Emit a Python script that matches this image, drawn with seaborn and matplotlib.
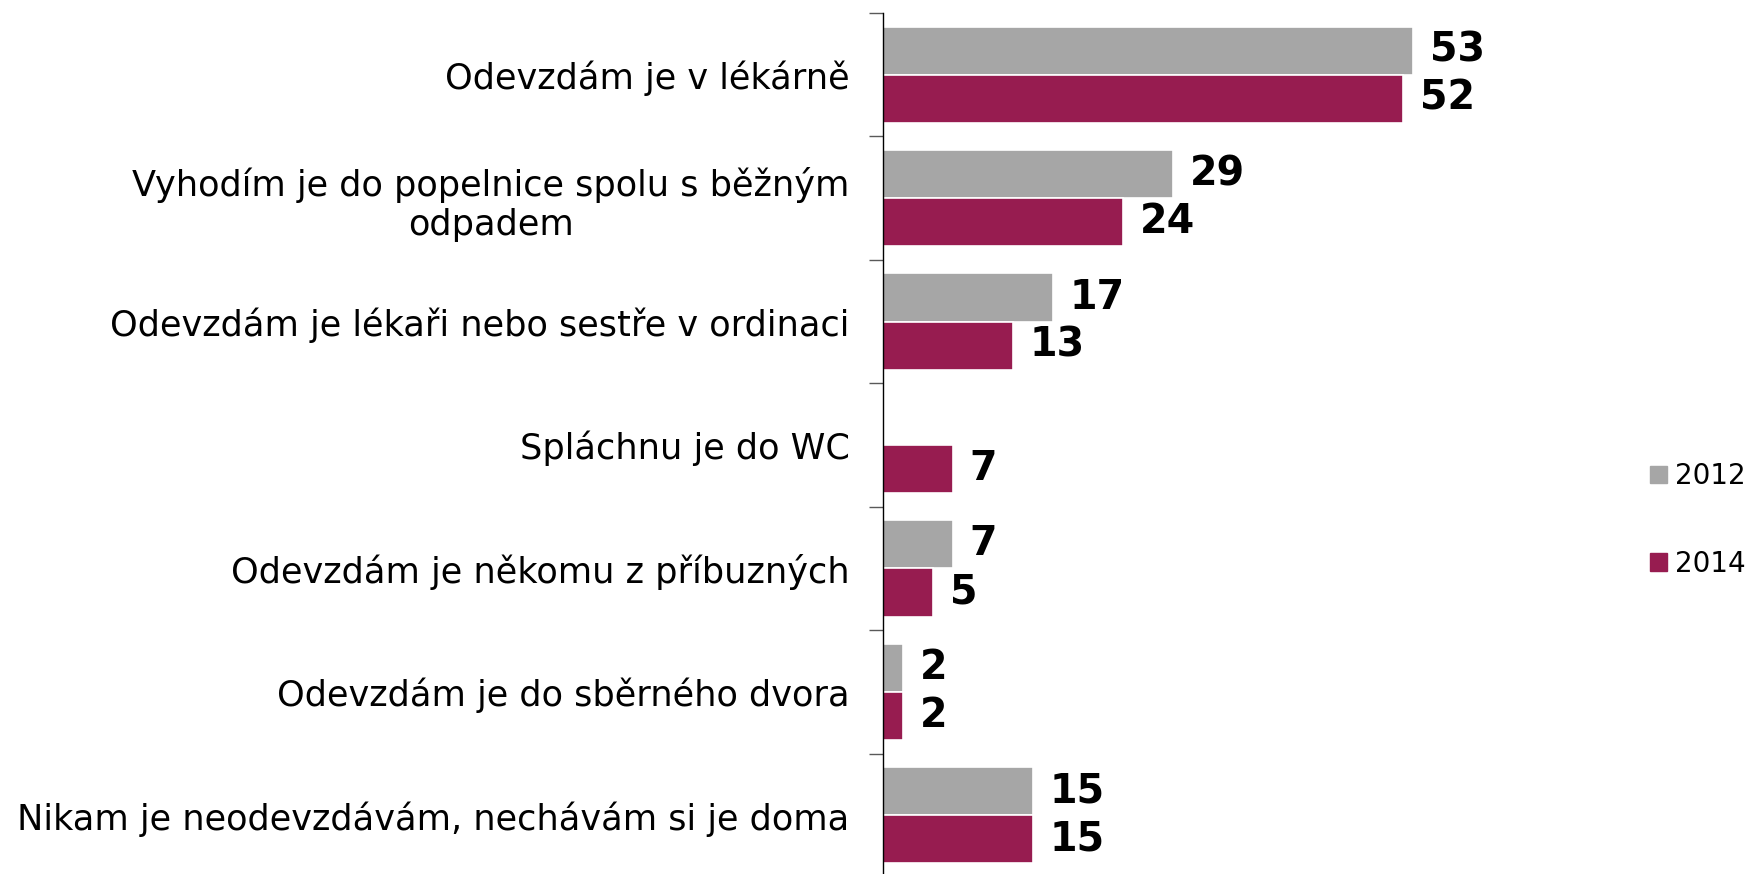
import matplotlib
matplotlib.use("Agg")
import matplotlib.pyplot as plt
import matplotlib.patches as mpatches
import numpy as np
import pandas as pd
import seaborn as sns

categories = [
    "Odevzdám je v lékárně",
    "Vyhodím je do popelnice spolu s běžným\nodpadem",
    "Odevzdám je lékaři nebo sestře v ordinaci",
    "Spláchnu je do WC",
    "Odevzdám je někomu z příbuzných",
    "Odevzdám je do sběrného dvora",
    "Nikam je neodevzdávám, nechávám si je doma",
]
values_2012 = [53, 29, 17, np.nan, 7, 2, 15]
values_2014 = [52, 24, 13, 7, 5, 2, 15]
years = ["2012", "2014"]
colors = {"2012": "#A6A6A6", "2014": "#971C50"}

df = pd.DataFrame({
    "category": categories * 2,
    "value": values_2012 + values_2014,
    "year": ["2012"] * len(categories) + ["2014"] * len(categories),
})

sns.set_style("white")
plt.rcParams["font.family"] = ["DejaVu Sans"]

fig = plt.figure(figsize=(17.51, 8.74), dpi=100)
ax = fig.add_axes([883 / 1751, -3 / 874, 600 / 1751, (874 - 13 + 3) / 874])

sns.barplot(data=df, y="category", x="value", hue="year", hue_order=years,
            order=categories, palette=colors, saturation=1, orient="h", width=0.78,
            edgecolor="white", linewidth=1.2, ax=ax, legend=False)

ax.set_xlim(0, 60)
ax.set_ylim(6.5, -0.5)

# value labels (skip bars that are missing)
for cont in ax.containers:
    for bar in cont:
        if bar is None or np.isnan(bar.get_width()):
            continue
        w = bar.get_width()
        yc = bar.get_y() + bar.get_height() / 2
        ax.annotate(f"{w:.0f}", (w, yc), xytext=(12, 0), textcoords="offset points",
                    ha="left", va="center", fontsize=28.5, fontweight="bold",
                    color="black", annotation_clip=False)

# category boundary ticks, labels centered on groups
ax.set_yticks(np.arange(-0.5, 7, 1))
ax.set_yticklabels([])
ax.set_yticks(np.arange(len(categories)), minor=True)
ax.set_yticklabels(categories, minor=True, fontsize=25.3, ma="center", color="black")
ax.tick_params(axis="y", which="major", length=10, width=1, color="#595959", left=True)
ax.tick_params(axis="y", which="minor", length=0, pad=24)
ax.set_xticks([])
ax.set_xlabel("")
ax.set_ylabel("")

for s in ["top", "right", "bottom"]:
    ax.spines[s].set_visible(False)
ax.spines["left"].set_color("black")
ax.spines["left"].set_linewidth(1)

handles = [mpatches.Patch(color=colors[y], label=y) for y in years]
fig.legend(handles=handles, loc="center left", bbox_to_anchor=(1636 / 1751, 0.405),
           frameon=False, fontsize=20, labelcolor="black", handlelength=0.6,
           handleheight=0.6, handletextpad=0.3, labelspacing=2.15, borderpad=0)

fig.savefig("out.png", dpi=100)
